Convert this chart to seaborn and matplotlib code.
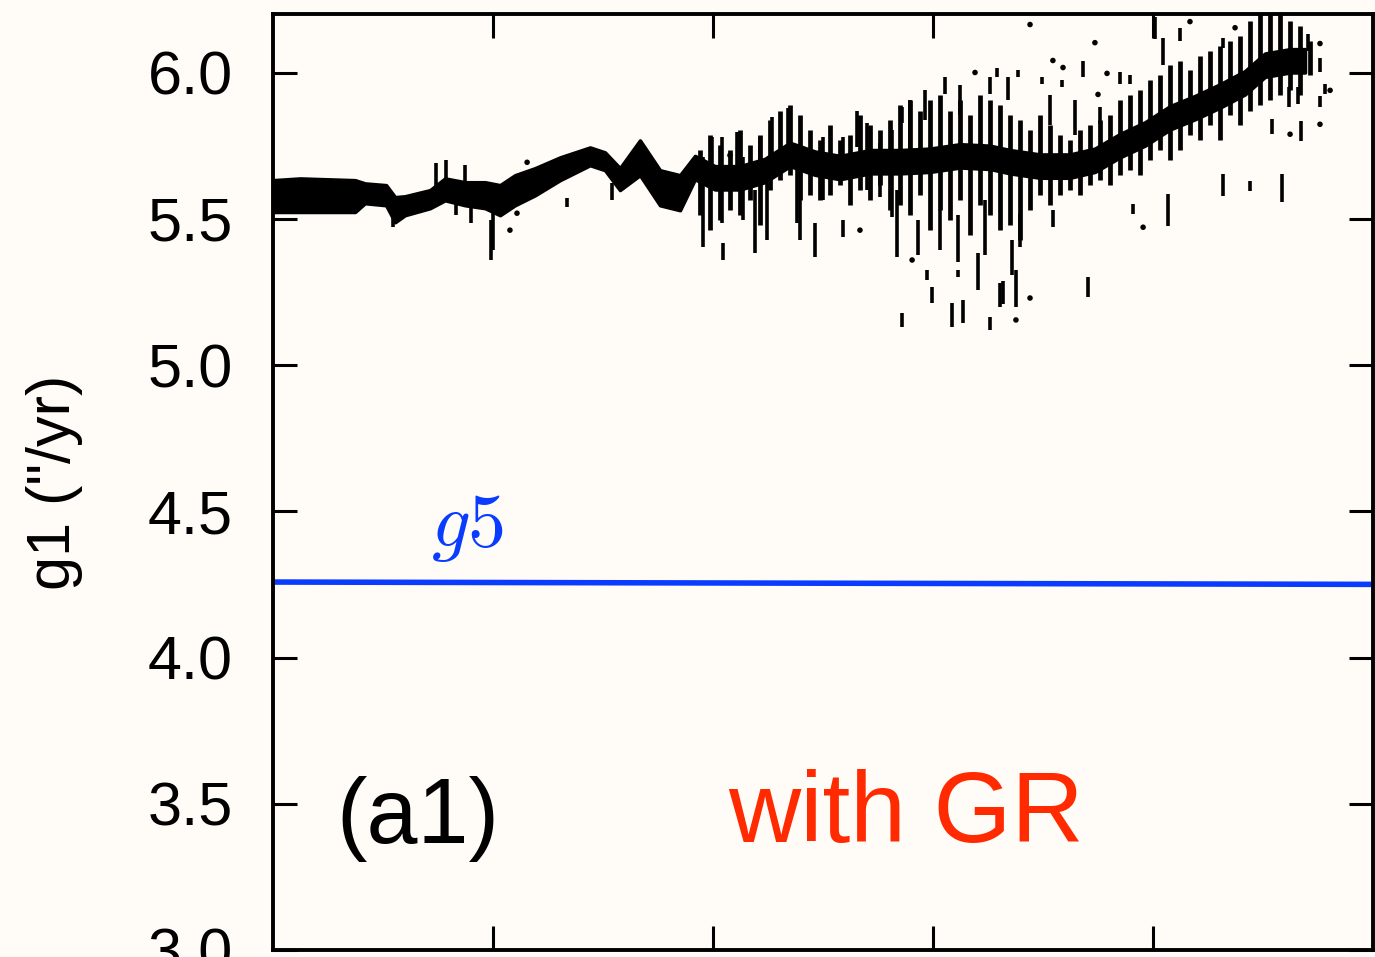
import numpy as np
import matplotlib.pyplot as plt
import seaborn as sns

# g1 frequency time series (x in time units, y in "/yr)
# dense part of the band: upper and lower edge
core_x = [0, 0.123, 0.373, 0.418, 0.514, 0.555, 0.6, 0.714, 0.782, 0.873, 0.964,
          1.032, 1.1, 1.191, 1.305, 1.441, 1.509, 1.577, 1.668, 1.759, 1.85, 1.918,
          2.009, 2.123, 2.236, 2.35, 2.464, 2.577, 2.714, 2.85, 2.986, 3.123, 3.259,
          3.35, 3.486, 3.623, 3.736, 3.85, 3.964, 4.077, 4.191, 4.305, 4.418, 4.509,
          4.623, 4.691]
core_hi = [5.632, 5.638, 5.632, 5.621, 5.615, 5.574, 5.577, 5.598, 5.638, 5.625, 5.625,
           5.615, 5.649, 5.673, 5.710, 5.744, 5.727, 5.673, 5.768, 5.666, 5.649, 5.715,
           5.68, 5.68, 5.705, 5.76, 5.73, 5.715, 5.735, 5.735, 5.74, 5.755, 5.75,
           5.735, 5.72, 5.72, 5.74, 5.79, 5.83, 5.885, 5.92, 5.96, 6.005, 6.065,
           6.08, 6.08]
core_lo = [5.523, 5.523, 5.523, 5.553, 5.546, 5.488, 5.512, 5.536, 5.563, 5.546, 5.536,
           5.512, 5.546, 5.580, 5.632, 5.683, 5.666, 5.598, 5.649, 5.546, 5.529, 5.635,
           5.60, 5.60, 5.625, 5.68, 5.65, 5.635, 5.655, 5.655, 5.66, 5.675, 5.67,
           5.655, 5.64, 5.64, 5.66, 5.71, 5.75, 5.805, 5.84, 5.88, 5.925, 5.985,
           6.00, 6.00]

# streaky part of the band (one vertical run of points per step)
band_x = [1.941, 1.986, 2.032, 2.077, 2.123, 2.168, 2.214, 2.259, 2.305, 2.35,
          2.395, 2.441, 2.486, 2.532, 2.577, 2.623, 2.668, 2.714, 2.759, 2.805,
          2.85, 2.895, 2.941, 2.986, 3.032, 3.077, 3.123, 3.168, 3.214, 3.259,
          3.305, 3.35, 3.395, 3.441, 3.486, 3.532, 3.577, 3.623, 3.668, 3.714,
          3.759, 3.805, 3.85, 3.895, 3.941, 3.986, 4.032, 4.077, 4.123, 4.168,
          4.214, 4.259, 4.305, 4.35, 4.395, 4.441, 4.486, 4.532, 4.577, 4.623,
          4.668, 4.714]
band_hi = [5.734, 5.785, 5.751, 5.734, 5.802, 5.751, 5.785, 5.836, 5.870, 5.888,
           5.853, 5.802, 5.768, 5.819, 5.768, 5.785, 5.853, 5.819, 5.802, 5.836,
           5.888, 5.905, 5.870, 5.905, 5.922, 5.870, 5.905, 5.853, 5.922, 5.905,
           5.888, 5.853, 5.836, 5.802, 5.853, 5.819, 5.785, 5.768, 5.802, 5.819,
           5.836, 5.853, 5.905, 5.922, 5.939, 5.973, 5.990, 6.024, 6.041, 6.007,
           6.058, 6.075, 6.092, 6.109, 6.126, 6.177, 6.2, 6.2, 6.2, 6.177,
           6.160, 6.109]
band_lo = [5.512, 5.461, 5.495, 5.529, 5.512, 5.563, 5.478, 5.598, 5.632, 5.649,
           5.563, 5.580, 5.563, 5.580, 5.615, 5.546, 5.598, 5.563, 5.615, 5.529,
           5.546, 5.512, 5.580, 5.461, 5.529, 5.495, 5.563, 5.444, 5.546, 5.512,
           5.461, 5.478, 5.427, 5.529, 5.580, 5.546, 5.580, 5.598, 5.580, 5.615,
           5.632, 5.615, 5.649, 5.666, 5.649, 5.700, 5.734, 5.700, 5.734, 5.785,
           5.768, 5.819, 5.768, 5.853, 5.819, 5.870, 5.888, 5.905, 5.922, 5.939,
           5.922, 5.990]

# vertical streaks sticking out of the band
streak_x = [1.955, 1.995, 2.041, 2.045, 2.109, 2.136, 2.191, 2.214, 2.245, 2.268,
            2.341, 2.382, 2.395, 2.464, 2.5, 2.591, 2.591, 2.655, 2.7, 2.759,
            2.814, 2.836, 2.859, 2.895, 2.859, 2.973, 2.995, 3.055, 3.086, 3.114,
            3.136, 3.205, 3.259, 3.259, 3.291, 3.305, 3.341, 3.377, 3.386, 3.495,
            3.545, 3.586, 3.705, 3.682, 3.85, 3.895, 3.759, 3.909, 4.009, 4.068,
            4.045, 4.123, 4.318, 4.318, 4.441, 4.586, 4.541, 4.618, 4.673, 4.705,
            4.759, 4.782, 4.759, 4.659, 1.0, 1.336, 1.541, 0.786, 0.741, 0.873,
            0.545, 0.832, 0.9, 0.991, 3.318, 3.395, 3.359, 3.032, 3.114, 3.236,
            2.932, 2.964, 3.123, 3.532, 3.645]
streak_hi = [5.710, 5.778, 5.778, 5.417, 5.795, 5.710, 5.598, 5.778, 5.621, 5.847,
             5.877, 5.710, 5.563, 5.485, 5.778, 5.778, 5.495, 5.870, 5.826, 5.758,
             5.802, 5.598, 5.881, 5.905, 5.178, 5.325, 5.267, 5.983, 5.212, 5.325,
             5.222, 5.383, 5.983, 5.164, 6.017, 5.280, 5.983, 5.325, 6.007, 5.983,
             5.529, 5.973, 5.301, 6.041, 6.003, 5.993, 5.881, 5.550, 6.191, 5.584,
             6.119, 6.153, 6.119, 5.652, 5.628, 5.652, 5.840, 5.949, 5.833, 6.130,
             6.051, 5.959, 5.918, 5.949, 5.563, 5.570, 5.621, 5.700, 5.690, 5.683,
             5.519, 5.563, 5.553, 5.495, 5.287, 5.516, 5.427, 5.529, 5.512, 5.563,
             5.495, 5.939, 5.956, 5.922, 5.905]
streak_lo = [5.403, 5.621, 5.485, 5.359, 5.608, 5.495, 5.383, 5.656, 5.427, 5.710,
             5.744, 5.485, 5.427, 5.369, 5.563, 5.656, 5.437, 5.744, 5.598, 5.574,
             5.505, 5.369, 5.826, 5.710, 5.130, 5.291, 5.212, 5.928, 5.130, 5.301,
             5.144, 5.256, 5.928, 5.120, 5.983, 5.198, 5.905, 5.198, 5.983, 5.962,
             5.471, 5.949, 5.233, 5.983, 5.959, 5.959, 5.823, 5.516, 6.113, 5.475,
             6.027, 6.106, 6.085, 5.577, 5.594, 5.557, 5.789, 5.881, 5.765, 6.072,
             6.003, 5.925, 5.881, 5.891, 5.393, 5.540, 5.563, 5.608, 5.608, 5.608,
             5.471, 5.512, 5.485, 5.359, 5.209, 5.403, 5.308, 5.393, 5.352, 5.376,
             5.376, 5.836, 5.853, 5.819, 5.785]

# isolated points
dot_x = [1.155, 1.109, 1.109, 1.077, 2.905, 3.191, 3.377, 3.441, 3.591, 3.791,
         3.75, 3.955, 4.168, 4.373, 4.623, 4.759, 4.759, 4.805, 2.668, 2.077,
         3.441, 3.545, 3.736]
dot_y = [5.693, 5.570, 5.519, 5.461, 5.359, 6.0, 5.154, 5.229, 6.017, 5.997,
         5.925, 5.471, 6.174, 6.153, 5.789, 5.823, 6.099, 5.939, 5.461, 5.717,
         6.164, 6.041, 6.102]

# g5 reference line
g5_x = [0, 5]
g5_y = [4.258, 4.250]

ytick_vals = [3.0, 3.5, 4.0, 4.5, 5.0, 5.5, 6.0]
xtick_vals = [1, 2, 3, 4]

bg = '#fffcf7'

sns.set_theme(style='ticks')
plt.rcParams['font.family'] = ['Liberation Sans', 'DejaVu Sans']
plt.rcParams['mathtext.fontset'] = 'cm'

fig = plt.figure(figsize=(13.75, 9.57), dpi=100, facecolor=bg)
ax = fig.add_axes([273 / 1375, 7 / 957, 1100 / 1375, 936 / 957])
ax.set_facecolor(bg)

ax.fill_between(core_x, core_lo, core_hi, color='black', lw=2.5)
ax.vlines(band_x, band_lo, band_hi, color='black', lw=3.4)
ax.vlines(streak_x, streak_lo, streak_hi, color='black', lw=2.6)
sns.scatterplot(x=dot_x, y=dot_y, color='black', s=16, edgecolor='none', ax=ax)
sns.lineplot(x=g5_x, y=g5_y, color='#0a3cff', lw=4.0, ax=ax)

ax.text(0.72, 4.38, r'$g5$', color='#0a3cff', fontsize=55, va='baseline')
ax.text(0.29, 3.365, '(a1)', color='black', fontsize=66, va='baseline')
ax.text(2.07, 3.37, 'with GR', color='#ff2a00', fontsize=72, va='baseline')

ax.set_xlim(0, 5)
ax.set_ylim(3.0, 6.2)
ax.set_xticks(xtick_vals)
ax.set_yticks(ytick_vals)
ax.set_yticklabels([f'{v:.1f}' for v in ytick_vals])
ax.tick_params(direction='in', length=17, width=2.2, top=True, right=True,
               labelbottom=False, labelsize=44, pad=29, color='black',
               labelcolor='black')
for s in ax.spines.values():
    s.set_linewidth(2.8)
    s.set_color('black')
ax.set_ylabel('g1 ("/yr)', fontsize=44, labelpad=46, color='black')

fig.savefig('out.png', dpi=100, facecolor=bg)
